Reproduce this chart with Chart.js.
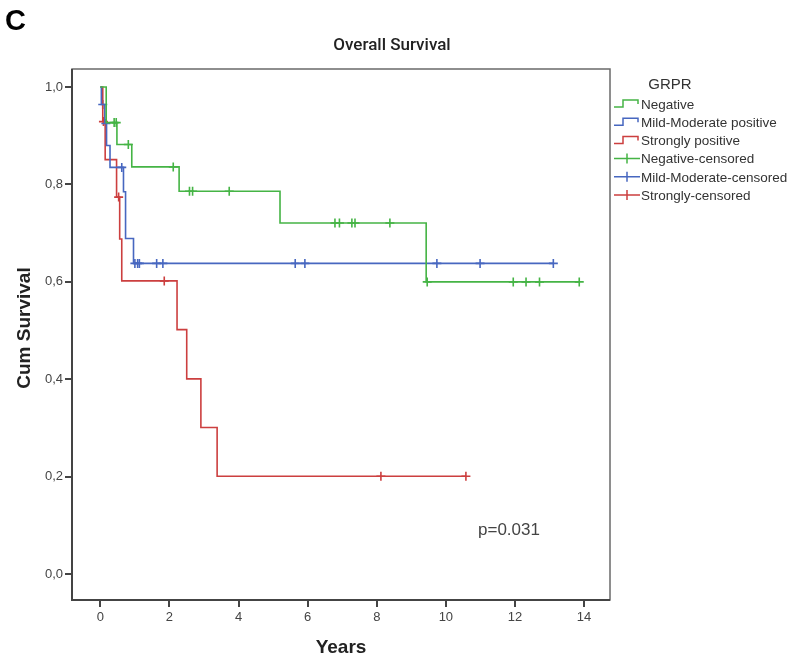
<!DOCTYPE html>
<html><head><meta charset="utf-8">
<script src="https://cdn.jsdelivr.net/npm/chart.js@4/dist/chart.umd.min.js"></script>
<style>html,body{margin:0;padding:0;background:#fff;}#wrap{width:798px;height:658px;position:relative}</style>
</head><body><div id="wrap"><canvas id="c" width="798" height="658"></canvas></div>
<script>
// ---- data ----
const groupLabels = ['Negative', 'Mild-Moderate positive', 'Strongly positive'];
const censorLabels = ['Negative-censored', 'Mild-Moderate-censored', 'Strongly-censored'];
const xTicks = [0, 2, 4, 6, 8, 10, 12, 14];
const yTicks = [0, 0.2, 0.4, 0.6, 0.8, 1.0];

const negTimes = [0, 0.17, 0.48, 0.91, 2.28, 5.20, 9.43, 13.86];
const negSurv  = [1.0, 0.927, 0.882, 0.836, 0.786, 0.721, 0.600, 0.600];
const negCensT = [0.40, 0.46, 0.81, 2.11, 2.58, 2.67, 3.73, 6.79, 6.92, 7.28, 7.37, 8.38, 9.46, 11.95, 12.32, 12.71, 13.86];
const negCensS = [0.927, 0.927, 0.882, 0.836, 0.786, 0.786, 0.786, 0.721, 0.721, 0.721, 0.721, 0.721, 0.600, 0.600, 0.600, 0.600, 0.600];

const midTimes = [0, 0.03, 0.13, 0.18, 0.28, 0.67, 0.73, 0.96, 13.11];
const midSurv  = [1.0, 0.964, 0.925, 0.880, 0.835, 0.785, 0.689, 0.638, 0.638];
const midCensT = [0.07, 0.16, 0.62, 1.00, 1.08, 1.13, 1.63, 1.81, 5.64, 5.92, 9.74, 10.99, 13.11];
const midCensS = [0.964, 0.925, 0.835, 0.638, 0.638, 0.638, 0.638, 0.638, 0.638, 0.638, 0.638, 0.638, 0.638];

const strTimes = [0, 0.07, 0.14, 0.47, 0.56, 0.62, 2.22, 2.50, 2.91, 3.38, 10.58];
const strSurv  = [1.0, 0.929, 0.851, 0.774, 0.688, 0.602, 0.502, 0.401, 0.301, 0.201, 0.201];
const strCensT = [0.09, 0.53, 1.85, 8.12, 10.58];
const strCensS = [0.929, 0.774, 0.602, 0.201, 0.201];

const pValueText = 'p=0.031';
// -------------------------------------

const colors = ['#45b445', '#4767c0', '#cc3f3f'];
const pts = (t, s) => t.map((v, i) => ({x: v, y: s[i]}));

function lineDs(label, t, s, c) {
  return {label, data: pts(t, s), borderColor: c, backgroundColor: c, borderWidth: 1.6,
    stepped: true, pointRadius: 0, fill: false, kind: 'line'};
}
function censDs(label, t, s, c) {
  return {label, data: pts(t, s), borderColor: c, backgroundColor: c, borderWidth: 1.6,
    showLine: false, pointStyle: 'cross', pointRadius: 4.5, kind: 'cens'};
}

const datasets = [
  lineDs(groupLabels[0], negTimes, negSurv, colors[0]),
  lineDs(groupLabels[1], midTimes, midSurv, colors[1]),
  lineDs(groupLabels[2], strTimes, strSurv, colors[2]),
  censDs(censorLabels[0], negCensT, negCensS, colors[0]),
  censDs(censorLabels[1], midCensT, midCensS, colors[1]),
  censDs(censorLabels[2], strCensT, strCensS, colors[2])
];

const decor = {
  id: 'decor',
  beforeDatasetsDraw(chart) {
    const {ctx, chartArea: a} = chart;
    ctx.save();
    ctx.strokeStyle = '#6a6a6a';
    ctx.lineWidth = 1.5;
    ctx.strokeRect(a.left, a.top, a.right - a.left, a.bottom - a.top);
    ctx.strokeStyle = '#444';
    ctx.lineWidth = 2;
    ctx.beginPath();
    ctx.moveTo(a.left, a.top); ctx.lineTo(a.left, a.bottom); ctx.lineTo(a.right, a.bottom);
    ctx.stroke();
    ctx.restore();
  },
  afterDraw(chart) {
    const {ctx, chartArea: a} = chart;
    ctx.save();
    ctx.fillStyle = '#000';
    ctx.font = 'bold 29px "Liberation Sans"';
    ctx.textAlign = 'left'; ctx.textBaseline = 'alphabetic';
    ctx.fillText('C', 5, 30);

    ctx.fillStyle = '#222';
    ctx.font = '500 17px Roboto';
    ctx.textAlign = 'center'; ctx.textBaseline = 'middle';
    ctx.fillText('Overall Survival', 392, 46);

    ctx.fillStyle = '#222';
    ctx.font = 'bold 19px "Liberation Sans"';
    ctx.fillText('Years', (a.left + a.right) / 2, 648);

    ctx.save();
    ctx.translate(25, 328);
    ctx.rotate(-Math.PI / 2);
    ctx.fillText('Cum Survival', 0, 0);
    ctx.restore();

    ctx.fillStyle = '#444';
    ctx.font = '17px "Liberation Sans"';
    ctx.textAlign = 'left';
    ctx.fillText(pValueText, 478, 530);

    // legend
    ctx.fillStyle = '#333';
    ctx.font = '15px "Liberation Sans"';
    ctx.textAlign = 'center';
    ctx.fillText('GRPR', 670, 85);
    ctx.font = '13.5px "Liberation Sans"';
    ctx.textAlign = 'left';
    chart.data.datasets.forEach((ds, i) => {
      const y = 104 + i * 18.2;
      ctx.strokeStyle = ds.borderColor;
      ctx.lineWidth = 1.5;
      ctx.beginPath();
      if (ds.kind === 'line') {
        ctx.moveTo(614, y + 3); ctx.lineTo(623, y + 3); ctx.lineTo(623, y - 4);
        ctx.lineTo(638, y - 4); ctx.lineTo(638, y);
      } else {
        ctx.moveTo(614, y); ctx.lineTo(640, y);
        ctx.moveTo(627, y - 5); ctx.lineTo(627, y + 5);
      }
      ctx.stroke();
      ctx.fillStyle = '#333';
      ctx.fillText(ds.label, 641, y + 1);
    });
    ctx.restore();
  }
};

Chart.defaults.font.family = '"Liberation Sans", Arial, sans-serif';
new Chart(document.getElementById('c'), {
  type: 'line',
  data: {datasets},
  options: {
    responsive: false, animation: false, devicePixelRatio: 1,
    layout: {padding: {left: 0, top: 69, right: 188, bottom: 0}},
    plugins: {legend: {display: false}, title: {display: false}, tooltip: {enabled: false}},
    scales: {
      x: {
        type: 'linear', min: -0.82, max: 14.75,
        afterBuildTicks: s => { s.ticks = xTicks.map(v => ({value: v})); },
        afterFit: s => { s.height = 58; },
        ticks: {font: {size: 13}, color: '#444', padding: 3, maxRotation: 0, autoSkip: false,
          callback: v => String(v)},
        grid: {drawOnChartArea: false, drawTicks: true, tickLength: 7, color: '#444', lineWidth: 2},
        border: {display: false}
      },
      y: {
        type: 'linear', min: -0.053, max: 1.037,
        afterBuildTicks: s => { s.ticks = yTicks.map(v => ({value: v})); },
        afterFit: s => { s.width = 72; },
        ticks: {font: {size: 13}, color: '#444', padding: 2, autoSkip: false,
          callback: v => Number(v).toFixed(1).replace('.', ',')},
        grid: {drawOnChartArea: false, drawTicks: true, tickLength: 7, color: '#444', lineWidth: 2},
        border: {display: false}
      }
    }
  },
  plugins: [decor]
});
</script></body></html>
